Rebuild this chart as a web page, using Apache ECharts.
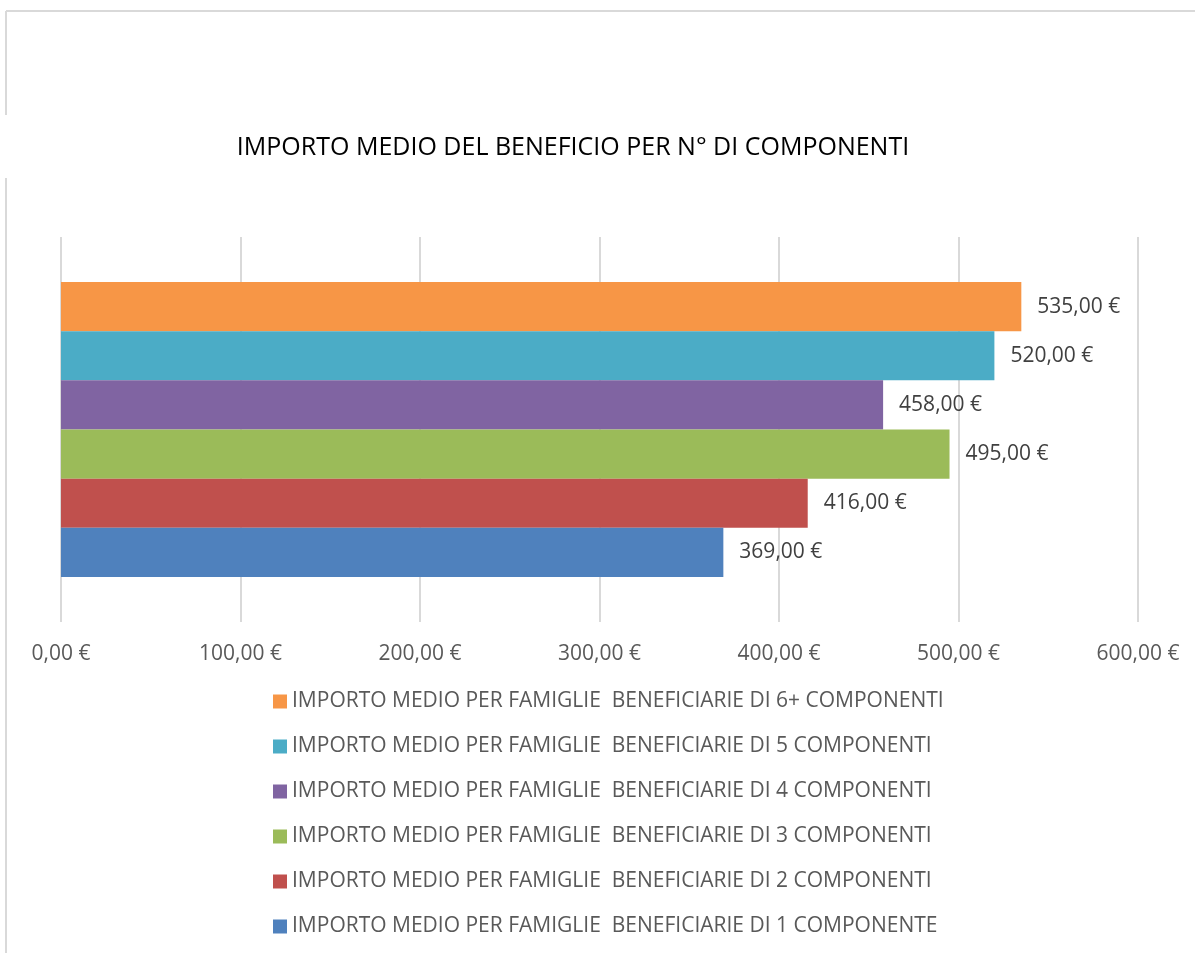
<!DOCTYPE html>
<html>
<head>
<meta charset="utf-8">
<script src="https://cdn.jsdelivr.net/npm/echarts@6/dist/echarts.min.js"></script>
<style>
  html, body { margin: 0; padding: 0; background: #fff; }
  #main { width: 1195px; height: 953px; }
</style>
</head>
<body>
<div id="main"></div>
<script>
// series, top to bottom as drawn: 6+ componenti first, 1 componente last
const seriesNames = [
  "IMPORTO MEDIO PER FAMIGLIE  BENEFICIARIE DI 6+ COMPONENTI",
  "IMPORTO MEDIO PER FAMIGLIE  BENEFICIARIE DI 5 COMPONENTI",
  "IMPORTO MEDIO PER FAMIGLIE  BENEFICIARIE DI 4 COMPONENTI",
  "IMPORTO MEDIO PER FAMIGLIE  BENEFICIARIE DI 3 COMPONENTI",
  "IMPORTO MEDIO PER FAMIGLIE  BENEFICIARIE DI 2 COMPONENTI",
  "IMPORTO MEDIO PER FAMIGLIE  BENEFICIARIE DI 1 COMPONENTE"
];
const seriesValues = [535, 520, 458, 495, 416, 369];
const seriesColors = ["#f79646", "#4bacc6", "#8064a2", "#9bbb59", "#c0504d", "#4f81bd"];
const categories = [""];

const euro = v => v.toFixed(2).replace(".", ",") + " €";

const chart = echarts.init(document.getElementById("main"));

const series = seriesNames.map((name, i) => ({
  name: name,
  type: "bar",
  data: [seriesValues[i]],
  itemStyle: { color: seriesColors[i] },
  barGap: "0%",
  barCategoryGap: "23.4%",
  label: {
    show: true,
    position: "right",
    distance: 16,
    formatter: p => euro(p.value),
    color: "#404040",
    fontSize: 21,
    fontFamily: "Open Sans"
  }
}));

chart.setOption({
  animation: false,
  title: {
    text: "IMPORTO MEDIO DEL BENEFICIO PER N° DI COMPONENTI",
    left: 568,
    textAlign: "center",
    top: 130,
    textStyle: { color: "#000", fontSize: 25, fontWeight: "normal", fontFamily: "Open Sans" }
  },
  legend: {
    orient: "vertical",
    left: 273,
    top: 691,
    padding: 0,
    itemWidth: 14,
    itemHeight: 14,
    itemGap: 24,
    itemStyle: { borderWidth: 0 },
    icon: "rect",
    data: seriesNames,
    textStyle: { color: "#595959", fontSize: 21, fontFamily: "Open Sans" }
  },
  grid: { left: 61, right: 57, top: 237, bottom: 331, containLabel: false },
  xAxis: {
    type: "value",
    min: 0,
    max: 600,
    interval: 100,
    axisLine: { show: false },
    axisTick: { show: false },
    splitLine: { lineStyle: { color: "#d9d9d9", width: 2 } },
    axisLabel: { formatter: euro, color: "#595959", fontSize: 21, margin: 22, fontFamily: "Open Sans" }
  },
  yAxis: {
    type: "category",
    data: categories,
    axisLine: { show: false },
    axisTick: { show: false },
    axisLabel: { show: false }
  },
  graphic: [
    { type: "line", shape: { x1: 6, y1: 11, x2: 1195, y2: 11 }, style: { stroke: "#d9d9d9", lineWidth: 2 } },
    { type: "line", shape: { x1: 6, y1: 11, x2: 6, y2: 115 }, style: { stroke: "#d9d9d9", lineWidth: 2 } },
    { type: "line", shape: { x1: 6, y1: 178, x2: 6, y2: 953 }, style: { stroke: "#d9d9d9", lineWidth: 2 } }
  ],
  series: series
});
</script>
</body>
</html>
